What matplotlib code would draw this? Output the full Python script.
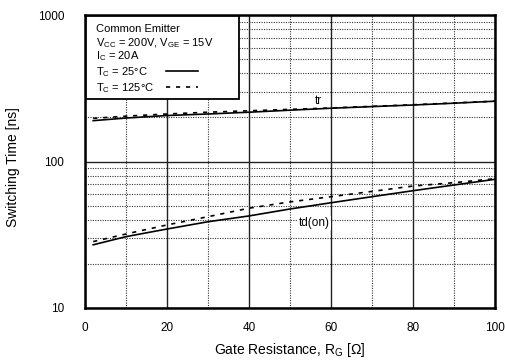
import matplotlib
matplotlib.use("Agg")
import matplotlib.pyplot as plt
from matplotlib.lines import Line2D
from matplotlib.patches import Rectangle
from matplotlib.ticker import FixedLocator, NullFormatter

plt.rcParams['font.family'] = ['Liberation Sans', 'DejaVu Sans']
plt.rcParams['mathtext.default'] = 'regular'

# Data
rg = [2, 10, 20, 30, 40, 50, 60, 70, 80, 90, 100]
tr_25 = [190, 198, 206, 211, 217, 224, 231, 237, 243, 250, 258]
tr_125 = [197, 204, 211, 217, 222, 227, 232, 238, 244, 251, 258]
tdon_25 = [27.0, 30.7, 34.6, 38.8, 42.5, 47.4, 52.3, 57.5, 63.2, 69.1, 75.6]
tdon_125 = [28.4, 32.0, 36.9, 42.0, 48.0, 53.0, 57.5, 62.5, 68.0, 71.7, 76.3]

x_ticks = [0, 20, 40, 60, 80, 100]
y_ticks = [10, 100, 1000]
y_ticklabels = ['10', '100', '1000']

fig = plt.figure(figsize=(5.06, 3.63), dpi=100)
ax = fig.add_axes([85/506, 1-308/363, 410/506, 293/363])

ax.set_yscale('log')
ax.set_xlim(0, 100)
ax.set_ylim(10, 1000)

ax.xaxis.set_major_locator(FixedLocator(x_ticks))
ax.xaxis.set_minor_locator(FixedLocator([10, 30, 50, 70, 90]))
ax.yaxis.set_major_locator(FixedLocator(y_ticks))
ax.yaxis.set_minor_locator(FixedLocator([v*d for d in (10, 100) for v in range(2, 10)]))
ax.yaxis.set_minor_formatter(NullFormatter())
ax.set_xticklabels([str(v) for v in x_ticks])
ax.set_yticklabels(y_ticklabels)

ax.grid(which='major', color='#222222', linestyle='-', linewidth=1.0)
ax.grid(which='minor', color='#333333', linestyle=(0, (1, 1.2)), linewidth=0.8)
ax.tick_params(which='both', length=0)
ax.tick_params(axis='x', pad=10, labelsize=8.5)
ax.tick_params(axis='y', pad=15, labelsize=8.5)
for s in ax.spines.values():
    s.set_linewidth(1.8)
    s.set_color('black')

ax.plot(rg, tr_25, color='black', lw=1.2, ls='-', zorder=3)
ax.plot(rg, tr_125, color='black', lw=1.2, ls=(0, (2.5, 3.5)), zorder=3)
ax.plot(rg, tdon_25, color='black', lw=1.2, ls='-', zorder=3)
ax.plot(rg, tdon_125, color='black', lw=1.2, ls=(0, (2.5, 3.5)), zorder=3)

ax.text(57, 236, 'tr', fontsize=8.5, ha='center', va='bottom', zorder=4)
ax.text(56, 38, 'td(on)', fontsize=8.5, ha='center', va='center', zorder=4,
        bbox=dict(facecolor='white', edgecolor='none', pad=0.5))

ax.set_xlabel(r'Gate Resistance, R$_G$ [Ω]', fontsize=10, labelpad=5)
ax.set_ylabel('Switching Time [ns]', fontsize=10)
ax.yaxis.set_label_coords(-0.158, 0.48)

# Legend box
ax.add_patch(Rectangle((0.002, 0.713), 0.374, 0.284, transform=ax.transAxes,
                       facecolor='white', edgecolor='black', lw=1.3, zorder=5))
lx = 0.027
fs = 8
ax.text(lx, 0.952, 'Common Emitter', transform=ax.transAxes, fontsize=fs, va='center', zorder=6)
ax.text(lx, 0.904, r'V$_{CC}$ = 200V, V$_{GE}$ = 15V', transform=ax.transAxes, fontsize=fs, va='center', zorder=6)
ax.text(lx, 0.860, r'I$_C$ = 20A', transform=ax.transAxes, fontsize=fs, va='center', zorder=6)
ax.text(lx, 0.805, r'T$_C$ = 25°C', transform=ax.transAxes, fontsize=fs, va='center', zorder=6)
ax.text(lx, 0.752, r'T$_C$ = 125°C', transform=ax.transAxes, fontsize=fs, va='center', zorder=6)
ax.add_line(Line2D([0.198, 0.276], [0.808, 0.808], transform=ax.transAxes, color='black', lw=1.2, zorder=6))
ax.add_line(Line2D([0.198, 0.276], [0.755, 0.755], transform=ax.transAxes, color='black', lw=1.2,
                   ls=(0, (2.5, 3.5)), zorder=6))

fig.savefig('out.png', dpi=100)
